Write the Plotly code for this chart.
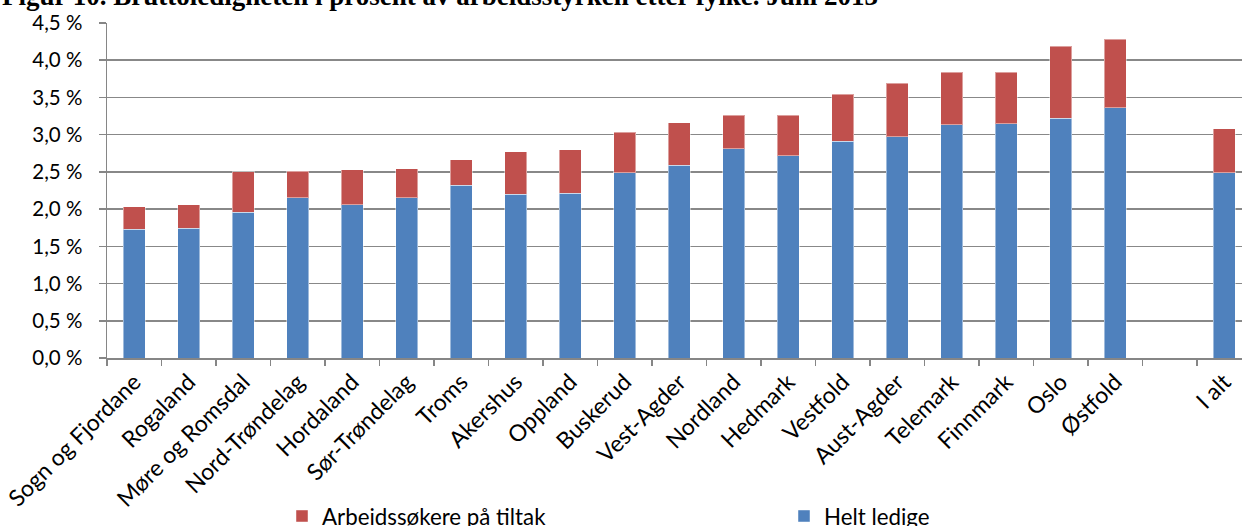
import plotly.graph_objects as go

categories = ["Sogn og Fjordane", "Rogaland", "Møre og Romsdal", "Nord-Trøndelag", "Hordaland",
              "Sør-Trøndelag", "Troms", "Akershus", "Oppland", "Buskerud", "Vest-Agder",
              "Nordland", "Hedmark", "Vestfold", "Aust-Agder", "Telemark", "Finnmark",
              "Oslo", "Østfold", " ", "I alt"]
helt_ledige = [1.73, 1.74, 1.96, 2.15, 2.06, 2.15, 2.32, 2.20, 2.21, 2.49, 2.59,
               2.81, 2.72, 2.91, 2.97, 3.13, 3.15, 3.22, 3.36, None, 2.49]
totalt = [2.03, 2.06, 2.50, 2.51, 2.53, 2.54, 2.665, 2.77, 2.795, 3.03, 3.16,
          3.26, 3.26, 3.54, 3.69, 3.84, 3.84, 4.19, 4.28, None, 3.08]
tiltak = [None if (t is None or h is None) else round(t - h, 3) for t, h in zip(totalt, helt_ledige)]

ytickvals = [0, 0.5, 1.0, 1.5, 2.0, 2.5, 3.0, 3.5, 4.0, 4.5]
yticktext = ["0,0 %", "0,5 %", "1,0 %", "1,5 %", "2,0 %", "2,5 %", "3,0 %", "3,5 %", "4,0 %", "4,5 %"]

title_text = "Figur 10. Bruttoledigheten i prosent av arbeidsstyrken etter fylke. Juni 2013"

W, H = 1242, 526
ml, mr, mt, mb = 107, 0, 23, 168
pw = W - ml - mr
ph = H - mt - mb

font = "Lato, 'Open Sans', sans-serif"

fig = go.Figure()
fig.add_trace(go.Bar(x=categories, y=helt_ledige, name="Helt ledige",
                     marker=dict(color="#4F81BD", line=dict(color="rgba(255,255,255,0.45)", width=1))))
fig.add_trace(go.Bar(x=categories, y=tiltak, name="Arbeidssøkere på tiltak",
                     marker=dict(color="#C0504D", line=dict(color="rgba(255,255,255,0.45)", width=1))))

fig.update_layout(
    width=W, height=H,
    barmode="stack", bargap=0.6,
    plot_bgcolor="white", paper_bgcolor="white",
    margin=dict(l=ml, r=mr, t=mt, b=mb, autoexpand=False),
    font=dict(family=font, size=22, color="black"),
    showlegend=True,
    legend=dict(orientation="h", traceorder="reversed",
                x=(282 - ml) / pw, xanchor="left",
                y=(mt + ph - 516) / ph, yanchor="middle",
                entrywidth=457, entrywidthmode="pixels",
                font=dict(family=font, size=22.3, color="black"),
                itemclick=False, bgcolor="rgba(0,0,0,0)"),
    annotations=[dict(text="<b>" + title_text + "</b>", xref="paper", yref="paper",
                      x=-ml / pw, xanchor="left", y=1, yanchor="bottom", yshift=10,
                      showarrow=False,
                      font=dict(family="'Liberation Serif', 'DejaVu Serif', serif", size=27, color="black"))],
)

fig.update_xaxes(
    type="category", range=[-0.5, (pw / 54.5) - 0.5],
    tickangle=-45, tickson="boundaries", ticks="outside", ticklen=6, tickcolor="#868686", tickwidth=1.5,
    showline=True, linecolor="#868686", linewidth=1.5,
    showgrid=False, automargin=False,
    tickfont=dict(family=font, size=23, color="black"),
)
fig.update_yaxes(
    range=[0, 4.5], tickvals=ytickvals, ticktext=yticktext,
    ticks="outside", ticklen=7, tickcolor="#868686", tickwidth=1.5,
    showline=True, linecolor="#868686", linewidth=1.5,
    showgrid=True, gridcolor="#888888", gridwidth=1.5,
    zeroline=False, automargin=False, ticklabelstandoff=12,
    tickfont=dict(family=font, size=20.5, color="black"),
)

fig.write_html("out.html", config={"displayModeBar": False, "staticPlot": True},
               post_script="document.body.style.margin='0';")
